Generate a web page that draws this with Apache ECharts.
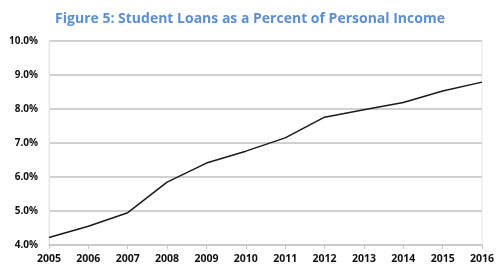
<!DOCTYPE html>
<html><head><meta charset="utf-8">
<script src="https://cdn.jsdelivr.net/npm/echarts@6/dist/echarts.min.js"></script>
<style>html,body{margin:0;padding:0;background:#fff}#c{width:500px;height:274px}</style>
</head><body><div id="c"></div>
<script>
const years = ['2005','2006','2007','2008','2009','2010','2011','2012','2013','2014','2015','2016'];
const loanPct = [4.22, 4.55, 4.95, 5.85, 6.41, 6.76, 7.15, 7.76, 7.98, 8.19, 8.53, 8.79];
const chart = echarts.init(document.getElementById('c'), null, {renderer:'canvas'});
chart.setOption({
  animation:false,
  title:{text:'Figure 5: Student Loans as a Percent of Personal Income', left:'center', top:7,
    textStyle:{color:'#5b8ed2', fontFamily:'Open Sans', fontWeight:'bold', fontSize:14}},
  grid:{left:49, right:18, top:41, bottom:29, containLabel:false, show:true, borderColor:'#e6e6e6', borderWidth:1},
  xAxis:{type:'category', data:years, boundaryGap:false,
    axisLine:{lineStyle:{color:'#c8c8c8', width:1.5}},
    axisTick:{show:true, length:4, lineStyle:{color:'#c8c8c8'}},
    axisLabel:{color:'#111', fontFamily:'Open Sans', fontWeight:'bold', fontSize:10.5, margin:9}},
  yAxis:{type:'value', min:4, max:10, interval:1,
    axisLine:{show:true, lineStyle:{color:'#e6e6e6'}},
    axisTick:{show:false},
    splitLine:{lineStyle:{color:'#d0d0d0', width:2}},
    axisLabel:{color:'#111', fontFamily:'Open Sans', fontWeight:'bold', fontSize:10, margin:11,
      formatter:v=>v.toFixed(1)+'%'}},
  series:[{type:'line', data:loanPct, symbol:'none', lineStyle:{color:'#1a1a1a', width:1.5}}]
});
</script></body></html>
